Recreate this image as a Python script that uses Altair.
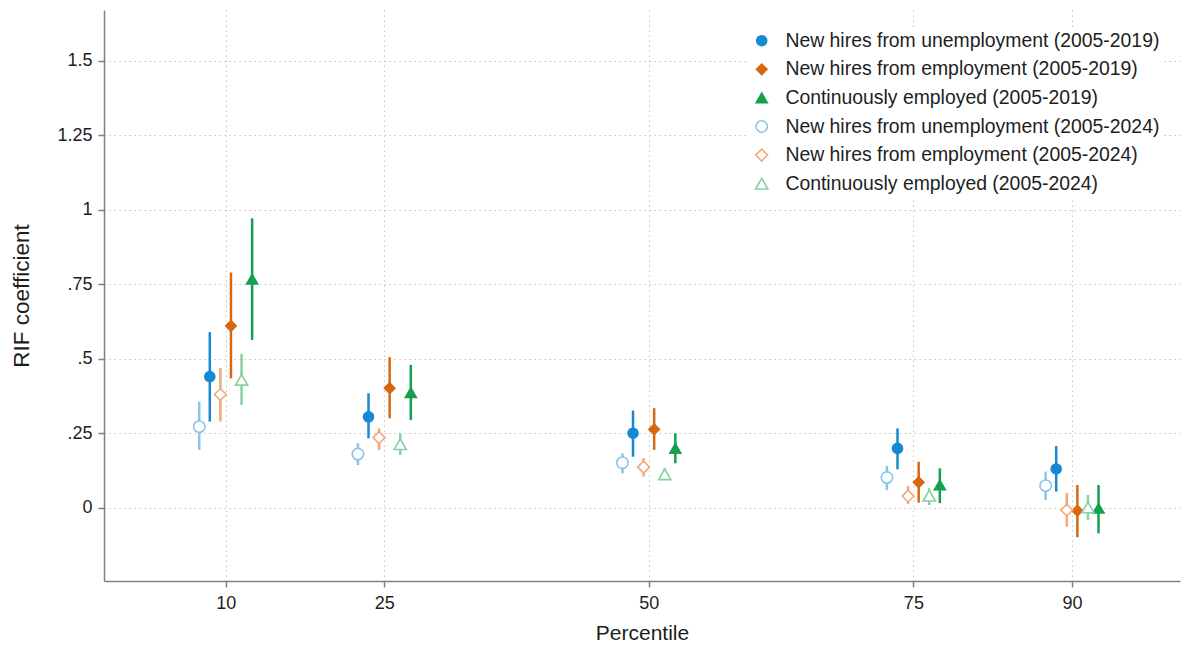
import altair as alt
import pandas as pd

# Percentiles of the wage distribution
percentiles = [10, 25, 50, 75, 90]

series_labels = [
    "New hires from unemployment (2005-2019)",
    "New hires from employment (2005-2019)",
    "Continuously employed (2005-2019)",
    "New hires from unemployment (2005-2024)",
    "New hires from employment (2005-2024)",
    "Continuously employed (2005-2024)",
]

# RIF regression coefficients with 95% confidence bounds
u19_est = [0.441, 0.306, 0.251, 0.200, 0.131]
u19_lo = [0.290, 0.234, 0.172, 0.130, 0.055]
u19_hi = [0.590, 0.385, 0.327, 0.267, 0.208]

e19_est = [0.611, 0.402, 0.264, 0.086, -0.009]
e19_lo = [0.435, 0.301, 0.195, 0.018, -0.098]
e19_hi = [0.790, 0.506, 0.335, 0.155, 0.077]

c19_est = [0.768, 0.387, 0.200, 0.077, -0.001]
c19_lo = [0.564, 0.295, 0.150, 0.016, -0.085]
c19_hi = [0.972, 0.480, 0.251, 0.133, 0.077]

u24_est = [0.273, 0.181, 0.152, 0.102, 0.075]
u24_lo = [0.195, 0.144, 0.116, 0.060, 0.027]
u24_hi = [0.357, 0.217, 0.183, 0.141, 0.122]

e24_est = [0.381, 0.236, 0.137, 0.040, -0.007]
e24_lo = [0.290, 0.195, 0.105, 0.013, -0.063]
e24_hi = [0.469, 0.267, 0.167, 0.074, 0.051]

c24_est = [0.430, 0.214, 0.113, 0.041, 0.002]
c24_lo = [0.346, 0.178, 0.094, 0.010, -0.040]
c24_hi = [0.517, 0.251, 0.134, 0.066, 0.044]

y_ticks = [0, 0.25, 0.5, 0.75, 1, 1.25, 1.5]

# Styling per series
BLUE, ORANGE, GREEN = "#1789d2", "#d8670f", "#14a04e"
LBLUE, LORANGE, LGREEN = "#86c5ec", "#f2a77a", "#86d0a3"
stroke_colors = [BLUE, ORANGE, GREEN, LBLUE, LORANGE, LGREEN]
fill_colors = [BLUE, ORANGE, GREEN, "white", "white", "white"]
shapes = ["circle", "diamond", "triangle-up", "circle", "diamond", "triangle-up"]
sizes = [100, 150, 140, 66, 105, 105]
# horizontal dodge (in percentile units) so the six estimates sit side by side
dodge = [-1.5, 0.5, 2.5, -2.5, -0.5, 1.5]

ests = [u19_est, e19_est, c19_est, u24_est, e24_est, c24_est]
los = [u19_lo, e19_lo, c19_lo, u24_lo, e24_lo, c24_lo]
his = [u19_hi, e19_hi, c19_hi, u24_hi, e24_hi, c24_hi]

rows = []
for label, off, est, lo, hi in zip(series_labels, dodge, ests, los, his):
    for p, e, l, h in zip(percentiles, est, lo, hi):
        rows.append({"series": label, "pct": p, "xpos": p + off,
                     "est": e, "lo": l, "hi": h})
df = pd.DataFrame(rows)

FONT = "Liberation Sans"
TEXT = "#1e1e1e"

x_scale = alt.Scale(domain=[-1.5, 100.2], nice=False, zero=False)
y_scale = alt.Scale(domain=[-0.245, 1.671], nice=False, zero=False)

x_axis = alt.Axis(values=percentiles, title="Percentile", format="d")
# Stata-style labels: drop the leading zero of fractions (".25", ".5", ".75")
y_axis = alt.Axis(
    values=y_ticks,
    title="RIF coefficient",
    labelExpr="datum.value > 0 && datum.value < 1 ? slice(toString(datum.value), 1) : toString(datum.value)",
)

stroke_enc = alt.Stroke("series:N", scale=alt.Scale(domain=series_labels, range=stroke_colors),
                        legend=alt.Legend(title=None))
fill_enc = alt.Fill("series:N", scale=alt.Scale(domain=series_labels, range=fill_colors),
                    legend=alt.Legend(title=None))
shape_enc = alt.Shape("series:N", scale=alt.Scale(domain=series_labels, range=shapes),
                      legend=alt.Legend(title=None))
size_enc = alt.Size("series:N", scale=alt.Scale(domain=series_labels, range=sizes), legend=None)

ci = alt.Chart(df).mark_rule(strokeWidth=2.5).encode(
    x=alt.X("xpos:Q", scale=x_scale, axis=x_axis),
    y=alt.Y("lo:Q", scale=y_scale, axis=y_axis),
    y2="hi:Q",
    stroke=stroke_enc,
)

points = alt.Chart(df).mark_point(filled=True, strokeWidth=1.6, opacity=1).encode(
    x=alt.X("xpos:Q", scale=x_scale, axis=x_axis),
    y=alt.Y("est:Q", scale=y_scale, axis=y_axis),
    stroke=stroke_enc,
    fill=fill_enc,
    shape=shape_enc,
    size=size_enc,
)

chart = (
    alt.layer(ci, points)
    .properties(
        width=1076,
        height=571,
        autosize=alt.AutoSizeParams(type="none"),
        padding={"left": 104, "top": 10, "right": 10, "bottom": 71},
        background="white",
    )
    .configure_view(stroke=None)
    .configure_axis(
        labelFont=FONT,
        titleFont=FONT,
        labelFontSize=18,
        titleFontSize=21,
        titleFontWeight="normal",
        labelColor=TEXT,
        titleColor=TEXT,
        domainColor="#808080",
        domainWidth=1.5,
        tickColor="#808080",
        tickWidth=1.5,
        tickSize=6,
        grid=True,
        gridColor="#c4c4c4",
        gridDash=[1.5, 3.5],
        gridWidth=1,
    )
    .configure_axisY(labelPadding=6, titlePadding=23, titleFontSize=22.5)
    .configure_axisX(labelPadding=7, titlePadding=10)
    .configure_legend(
        orient="none",
        legendX=644,
        legendY=17,
        fillColor="white",
        padding=4,
        labelFont=FONT,
        labelFontSize=19.4,
        labelColor=TEXT,
        labelLimit=0,
        labelOffset=14,
        rowPadding=7.6,
        symbolSize=70,
        symbolStrokeWidth=1.6,
    )
)

chart.save("out.html", embed_options={"renderer": "svg", "actions": False})
